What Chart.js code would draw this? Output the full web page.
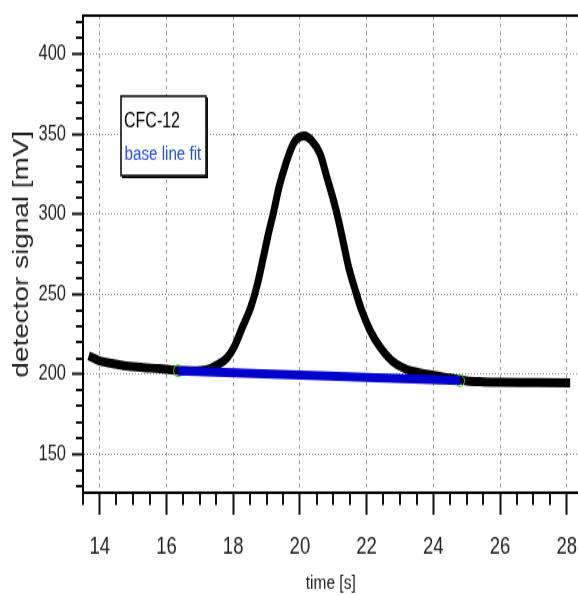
<!DOCTYPE html>
<html>
<head>
<meta charset="utf-8">
<script src="https://cdn.jsdelivr.net/npm/chart.js@4"></script>
<style>
  html { overflow: hidden; }
  body { margin: 0; padding: 0; width: 578px; height: 595px; background: #fff; }
  /* the original plot is stretched vertically, so draw small and scale up */
  #wrap { width: 584px; height: 458px; transform: scaleY(1.3); transform-origin: 0 0; }
</style>
</head>
<body>
<div id="wrap"><canvas id="chromChart" width="584" height="458"></canvas></div>
<script>
// detector trace (time in s, signal in mV)
const timeS = [13.67, 14.0, 14.4, 14.8, 15.3, 15.8, 16.25, 16.8, 17.2, 17.45, 17.8, 18.03, 18.28, 18.53, 18.73,
  18.9, 19.07, 19.22, 19.37, 19.57, 19.82, 20.12, 20.36, 20.61, 20.81, 21.01, 21.16, 21.31, 21.46, 21.66,
  21.85, 22.1, 22.4, 22.74, 23.14, 23.5, 24.0, 24.5, 25.0, 25.5, 26.0, 27.0, 28.1];
const signalMV = [211.5, 208.3, 206.6, 205.2, 204.2, 203.5, 202.6, 202.2, 202.8, 205.0, 209.8, 217.0, 229.5, 242.0, 256.5,
  272.5, 289.0, 302.0, 316.5, 331.0, 344.5, 348.8, 345.8, 337.5, 323.0, 308.5, 296.0, 281.5, 267.0, 252.5,
  240.0, 227.5, 217.0, 208.7, 203.6, 201.3, 199.3, 197.6, 195.9, 195.3, 195.0, 194.8, 194.6];

// base line fit, start and end points
const fitTime = [16.35, 24.8];
const fitMV = [202.1, 196.0];

const xMajor = [14, 16, 18, 20, 22, 24, 26, 28];
const yMajor = [150, 200, 250, 300, 350, 400];
const xMinorStep = 0.5;
const yMinorStep = 10;

const SANS = "'Liberation Sans', Arial, sans-serif";

const toPts = (xs, ys) => xs.map((x, i) => ({ x: x, y: ys[i] }));

// top frame line + minor ticks on both axes
const frameTicks = {
  id: 'frameTicks',
  afterDraw(chart) {
    const c = chart.ctx, a = chart.chartArea;
    const xs = chart.scales.x, ys = chart.scales.y;
    c.save();
    c.strokeStyle = '#000';
    c.lineWidth = 2;
    c.beginPath();
    c.moveTo(a.left - 1, a.top);
    c.lineTo(a.right, a.top);
    c.stroke();
    c.strokeStyle = '#111';
    c.beginPath();
    for (let v = Math.ceil(ys.min / yMinorStep) * yMinorStep; v <= ys.max; v += yMinorStep) {
      if (yMajor.includes(v)) continue;
      const py = Math.round(ys.getPixelForValue(v));
      c.moveTo(a.left - 7, py);
      c.lineTo(a.left, py);
    }
    for (let v = Math.ceil(xs.min / xMinorStep) * xMinorStep; v <= xs.max; v += xMinorStep) {
      if (xMajor.includes(v)) continue;
      const px = Math.round(xs.getPixelForValue(v));
      c.moveTo(px, a.bottom);
      c.lineTo(px, a.bottom + 9.5);
    }
    c.stroke();
    c.restore();
  }
};

// boxed legend with coloured text, no swatches
const boxLegend = {
  id: 'boxLegend',
  afterDraw(chart) {
    const c = chart.ctx;
    const ds = chart.data.datasets;
    const L = 121, T = 74, R = 206, B = 135;
    c.save();
    c.fillStyle = '#fff';
    c.fillRect(L, T, R - L, B - T);
    c.strokeStyle = '#000';
    c.lineWidth = 1.5;
    c.strokeRect(L, T, R - L, B - T);
    c.beginPath();
    c.moveTo(R + 1.2, T + 1);
    c.lineTo(R + 1.2, B + 1.2);
    c.lineTo(L + 1, B + 1.2);
    c.stroke();
    c.textBaseline = 'alphabetic';
    c.textAlign = 'left';
    c.font = '16px ' + SANS;
    c.fillStyle = '#000';
    c.fillText(ds[0].label, 124, 97.5);
    c.font = '15.2px ' + SANS;
    c.fillStyle = '#1e4bff';
    c.fillText(ds[1].label, 124.5, 122.8);
    c.restore();
  }
};

const ctx = document.getElementById('chromChart').getContext('2d');
new Chart(ctx, {
  type: 'line',
  data: {
    datasets: [
      {
        label: 'CFC-12',
        data: toPts(timeS, signalMV),
        borderColor: '#000',
        borderWidth: 7,
        pointRadius: 0,
        cubicInterpolationMode: 'monotone',
        order: 3
      },
      {
        label: 'base line fit',
        data: toPts(fitTime, fitMV),
        borderColor: '#0000cd',
        borderWidth: 7,
        pointRadius: 0,
        order: 1
      },
      {
        label: 'fit ends',
        data: toPts(fitTime, fitMV),
        showLine: false,
        pointRadius: 4.5,
        pointBorderColor: '#2ecc2e',
        pointBorderWidth: 1,
        pointBackgroundColor: 'rgba(0,0,0,0)',
        order: 2
      }
    ]
  },
  options: {
    responsive: false,
    animation: false,
    devicePixelRatio: 1,
    layout: { padding: { top: 12, right: 2, bottom: 0, left: 0 } },
    plugins: {
      legend: { display: false },
      tooltip: { enabled: false }
    },
    scales: {
      x: {
        type: 'linear',
        min: 13.5,
        max: 28.35,
        afterBuildTicks: s => { s.ticks = xMajor.map(v => ({ value: v })); },
        afterFit: s => { s.height = 79; s.paddingLeft = 0; s.paddingRight = 0; },
        ticks: { font: { family: SANS, size: 18.5 }, color: '#222', padding: 14, maxRotation: 0, autoSkip: false },
        grid: { color: '#9a9a9a', lineWidth: 1, tickLength: 17, tickColor: '#111', tickWidth: 2 },
        border: { color: '#000', width: 2, dash: [3, 3] },
        title: { display: true, text: 'time [s]', font: { family: SANS, size: 15.5 }, color: '#222', padding: { top: 0, bottom: 0 } }
      },
      y: {
        min: 126,
        max: 424,
        afterBuildTicks: s => { s.ticks = yMajor.map(v => ({ value: v })); },
        afterFit: s => { s.width = 83; s.paddingTop = 0; s.paddingBottom = 0; },
        ticks: { font: { family: SANS, size: 16.5 }, color: '#222', padding: 6 },
        grid: { color: '#8a8a8a', lineWidth: 1, tickLength: 11, tickColor: '#111', tickWidth: 2 },
        border: { color: '#000', width: 2, dash: [1, 2] },
        title: { display: true, text: 'detector signal [mV]', font: { family: SANS, size: 21.5 }, color: '#222', padding: { top: 9, bottom: 0 } }
      }
    }
  },
  plugins: [frameTicks, boxLegend]
});
</script>
</body>
</html>
